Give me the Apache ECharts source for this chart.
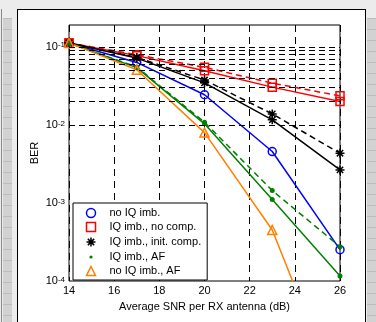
<!DOCTYPE html>
<html>
<head>
<meta charset="utf-8">
<script src="https://cdn.jsdelivr.net/npm/echarts@6/dist/echarts.min.js"></script>
<style>
  html, body { margin: 0; padding: 0; background: #ececec; }
  #wrap { position: relative; width: 376px; height: 322px; overflow: hidden; background: #ececec; }
  .edge { position: absolute; top: 9px; bottom: 0; left: 1px; width: 1px; background: #8a8a8a; }
  .tex { position: absolute; top: 18px; bottom: 0; background-color: #d2d2d2;
         background-image: linear-gradient(#bcbcbc 1px, transparent 1px);
         background-size: 100% 11px; }
  #fig { position: absolute; left: 17px; top: 9px; width: 347px; height: 330px; background: #fff; border: 1px solid #000; }
  #chart { position: absolute; left: 0; top: 0; width: 376px; height: 322px; }
</style>
</head>
<body>
<div id="wrap">
  <div class="edge"></div>
  <div class="tex" style="left:3px;width:9px"></div>
  <div class="tex" style="left:367px;width:9px"></div>
  <div id="fig"></div>
  <div id="chart"></div>
</div>
<script>
// SNR points (dB)
const snr = [14, 17, 20, 23, 26];

// BER curves
const noIQ         = [0.112, 0.063, 0.0243, 0.00455, 0.000252];
const noCompSolid  = [0.112, 0.077, 0.0492, 0.0304, 0.0199];
const noCompDash   = [0.112, 0.079, 0.0546, 0.0342, 0.0235];
const initSolid    = [0.112, 0.0716, 0.0345, 0.0116, 0.00265];
const initDash     = [0.112, 0.073, 0.0375, 0.0138, 0.00433];
const afSolid      = [0.112, 0.054, 0.0103, 0.00111, 0.000116];
const afDash       = [0.112, 0.055, 0.0108, 0.00144, 0.000275];
const noIQAF       = [0.112, 0.0507, 0.00796, 0.00045, 0.000003];

const yLabels = [1e-4, 1e-3, 1e-2, 1e-1];
// log grid lines (1..9 x each decade)
const yGrid = [];
[1e-4, 1e-3, 1e-2].forEach(d => {
  for (let m = 1; m <= 9; m++) if (d * m > 1e-4) yGrid.push(+(d * m).toPrecision(2));
});
yGrid.push(0.1);

const FONT = 'Liberation Sans';
const STAR = 'path://M5,0L5,10M0,5L10,5M1.5,1.5L8.5,8.5M1.5,8.5L8.5,1.5';
const DOT = 'path://M0,0M10,10M3.2,5A1.8,1.8,0,1,1,6.8,5A1.8,1.8,0,1,1,3.2,5Z';

function pts(vals) {
  return snr.map((x, i) => [x, vals[i]]);
}

function curve(name, vals, color, symbol, size, dashed, hollow) {
  return {
    name: name,
    type: 'line',
    data: pts(vals),
    symbol: symbol,
    symbolSize: size,
    lineStyle: { color: color, width: 1.5, type: dashed ? [6, 4] : 'solid' },
    itemStyle: { color: hollow ? 'none' : color, borderColor: color, borderWidth: 1.5 },
    emphasis: { disabled: true },
    z: 3
  };
}

const chart = echarts.init(document.getElementById('chart'));
chart.setOption({
  backgroundColor: 'transparent',
  animation: false,
  grid: {
    left: 69, right: 36, top: 25, bottom: 41,
    show: true, backgroundColor: '#fff', borderColor: '#000', borderWidth: 1
  },
  xAxis: {
    type: 'value', min: 14, max: 26, interval: 2,
    axisLine: { show: false },
    axisTick: { show: true, inside: true, length: 4, lineStyle: { color: '#000' } },
    axisLabel: { fontSize: 11, color: '#000', fontFamily: FONT, margin: 4 },
    splitLine: { show: true, lineStyle: { color: '#000', width: 1, type: [7, 5] } },
    name: 'Average SNR per RX antenna (dB)',
    nameLocation: 'middle', nameGap: 20,
    nameTextStyle: { fontSize: 11, color: '#000', fontFamily: FONT }
  },
  yAxis: {
    type: 'log', logBase: 10, min: 1e-4, max: 0.19,
    axisLine: { show: false },
    axisTick: { show: false },
    splitLine: { show: false },
    axisLabel: {
      customValues: yLabels,
      margin: 4,
      formatter: v => '{b|10}{s|' + Math.round(Math.log10(v)) + '}',
      rich: {
        b: { fontSize: 11, color: '#000', fontFamily: FONT },
        s: { fontSize: 8, color: '#000', fontFamily: FONT, verticalAlign: 'top' }
      }
    },
    name: 'BER', nameLocation: 'middle', nameGap: 29, nameMoveOverlap: false,
    nameTextStyle: { fontSize: 11, color: '#000', fontFamily: FONT }
  },
  legend: {
    orient: 'vertical', left: 73, top: 203,
    backgroundColor: '#fff', borderColor: '#000', borderWidth: 1, borderRadius: 0,
    padding: [4, 6, 3, 11],
    itemWidth: 9, itemHeight: 9, itemGap: 2,
    selectedMode: false,
    textStyle: { fontSize: 11, color: '#000', fontFamily: FONT, lineHeight: 12, padding: [0, 0, 0, 9] },
    data: [
      { name: 'no IQ imb.', icon: 'circle', itemStyle: { color: '#fff', borderColor: '#0000ff', borderWidth: 1.5 } },
      { name: 'IQ imb., no comp.', icon: 'rect', itemStyle: { color: '#fff', borderColor: '#ff0000', borderWidth: 1.5 } },
      { name: 'IQ imb., init. comp.', icon: STAR, itemStyle: { color: 'none', borderColor: '#000', borderWidth: 1.5 } },
      { name: 'IQ imb., AF', icon: DOT, itemStyle: { color: '#008000', borderColor: '#008000', borderWidth: 0 } },
      { name: 'no IQ imb., AF', icon: 'triangle', itemStyle: { color: '#fff', borderColor: '#ff8000', borderWidth: 1.5 } }
    ]
  },
  series: [
    {
      name: 'grid', type: 'line', data: [], silent: true, z: 1,
      markLine: {
        silent: true, symbol: ['none', 'none'], animation: false,
        label: { show: false }, emphasis: { disabled: true },
        lineStyle: { color: '#000', width: 1, type: [6, 4] },
        data: yGrid.map(v => ({ yAxis: v }))
      }
    },
    curve('no IQ imb.', noIQ, '#0000ff', 'circle', 8, false, true),
    curve('IQ imb., no comp.', noCompDash, '#ff0000', 'rect', 8, true, true),
    curve('IQ imb., no comp.', noCompSolid, '#ff0000', 'rect', 8, false, true),
    curve('IQ imb., init. comp.', initDash, '#000000', STAR, 9, true, true),
    curve('IQ imb., init. comp.', initSolid, '#000000', STAR, 9, false, true),
    curve('IQ imb., AF', afDash, '#008000', 'circle', 3.5, true, false),
    curve('IQ imb., AF', afSolid, '#008000', 'circle', 3.5, false, false),
    curve('no IQ imb., AF', noIQAF, '#ff8000', 'triangle', 9, false, true)
  ]
});
</script>
</body>
</html>
